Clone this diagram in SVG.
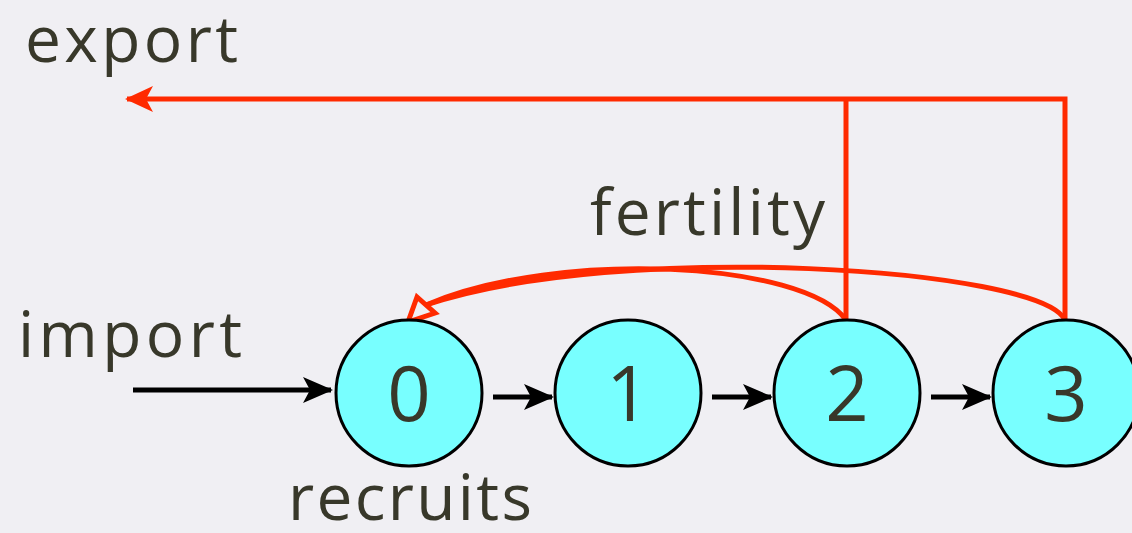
<svg xmlns="http://www.w3.org/2000/svg" width="1132" height="533" viewBox="0 0 1132 533">
  <defs>
    <style>
      .label { font-family: "Open Sans", "Liberation Sans", sans-serif; fill: #38382a; }
      .txt { font-size: 64px; }
      .digit { font-size: 76px; text-anchor: middle; }
      .node { fill: #78ffff; stroke: #000; stroke-width: 3; }
      .flow { stroke: #000; stroke-width: 5; fill: none; }
      .red { stroke: #ff2a00; stroke-width: 5; fill: none; }
    </style>
    <marker id="blackHead" viewBox="0 0 30 28" refX="28" refY="14" markerWidth="30" markerHeight="28" markerUnits="userSpaceOnUse" orient="auto">
      <path d="M0,1 L30,14 L0,27 L7,14 Z" fill="#000"/>
    </marker>
    <marker id="redHead" viewBox="0 0 28 28" refX="26" refY="14" markerWidth="28" markerHeight="28" markerUnits="userSpaceOnUse" orient="auto">
      <path d="M0,1 L28,14 L0,27 L7,14 Z" fill="#ff2a00"/>
    </marker>
  </defs>

  <rect width="1132" height="533" fill="#f0eff3"/>

  <!-- labels -->
  <text class="label txt" x="25" y="62" textLength="213" lengthAdjust="spacing">export</text>
  <text class="label txt" x="18" y="357" textLength="224" lengthAdjust="spacing">import</text>
  <text class="label txt" x="590" y="235" textLength="235" lengthAdjust="spacing">fertility</text>
  <text class="label txt" x="288" y="520" textLength="244" lengthAdjust="spacing">recruits</text>

  <!-- connectors -->
  <g id="connectors">
    <!-- import and ageing -->
    <line class="flow" x1="133" y1="390" x2="331" y2="390" marker-end="url(#blackHead)"/>
    <line class="flow" x1="493" y1="397" x2="552" y2="397" marker-end="url(#blackHead)"/>
    <line class="flow" x1="712" y1="397" x2="771" y2="397" marker-end="url(#blackHead)"/>
    <line class="flow" x1="931" y1="397" x2="990" y2="397" marker-end="url(#blackHead)"/>

    <!-- export -->
    <polyline class="red" points="1065,320 1065,99 846,99"/>
    <line class="red" x1="846" y1="320" x2="846" y2="99"/>
    <line class="red" x1="846" y1="99" x2="127" y2="99" marker-end="url(#redHead)"/>

    <!-- fertility -->
    <path class="red" stroke-width="6" d="M846,320 C805,262 560,248 426,305"/>
    <path class="red" stroke-width="6" d="M1065,320 C1040,268 620,240 426,305"/>
    <path class="red" stroke-width="4.5" stroke-linejoin="miter" d="M408,322 L417,297 L435,313 Z"/>
  </g>

  <!-- nodes -->
  <g id="node0">
    <circle class="node" cx="409" cy="393" r="73"/>
    <text class="label digit" x="409" y="421">0</text>
  </g>
  <g id="node1">
    <circle class="node" cx="628" cy="393" r="73"/>
    <text class="label digit" x="628" y="421">1</text>
  </g>
  <g id="node2">
    <circle class="node" cx="847" cy="393" r="73"/>
    <text class="label digit" x="847" y="421">2</text>
  </g>
  <g id="node3">
    <circle class="node" cx="1066" cy="393" r="73"/>
    <text class="label digit" x="1066" y="421">3</text>
  </g>
</svg>
